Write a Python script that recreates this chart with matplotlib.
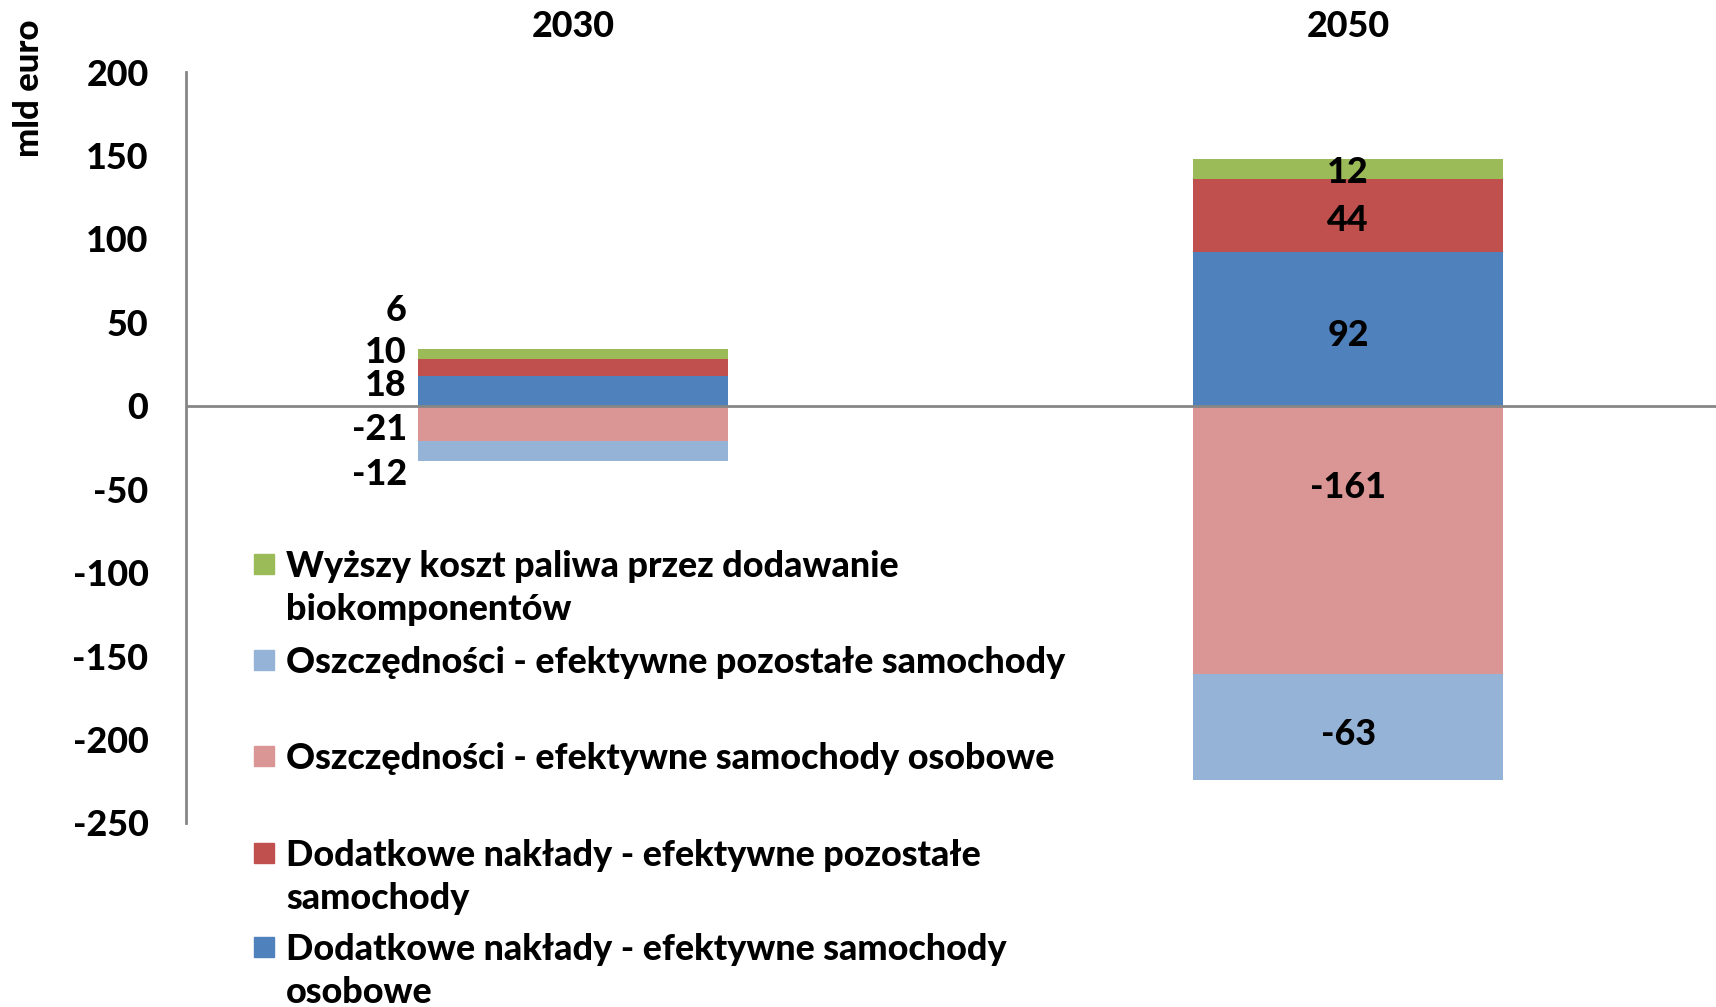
import matplotlib
matplotlib.use("Agg")
import matplotlib.pyplot as plt
from matplotlib.patches import Rectangle

plt.rcParams['font.family'] = ['Lato', 'DejaVu Sans']
plt.rcParams['font.weight'] = 'bold'

# ---- data ----
years = ["2030", "2050"]
series_names = [
    "Dodatkowe nakłady - efektywne samochody osobowe",
    "Dodatkowe nakłady - efektywne pozostałe samochody",
    "Oszczędności - efektywne samochody osobowe",
    "Oszczędności - efektywne pozostałe samochody",
    "Wyższy koszt paliwa przez dodawanie biokomponentów",
]
dod_osobowe = [18, 92]
dod_pozostale = [10, 44]
osz_osobowe = [-21, -161]
osz_pozostale = [-12, -63]
paliwo = [6, 12]
yticks = [200, 150, 100, 50, 0, -50, -100, -150, -200, -250]

# legend text (wrapped as in the reference), top to bottom
legend_order = [4, 3, 2, 1, 0]
legend_text = [
    "Wyższy koszt paliwa przez dodawanie\nbiokomponentów",
    "Oszczędności - efektywne pozostałe samochody",
    "Oszczędności - efektywne samochody osobowe",
    "Dodatkowe nakłady - efektywne pozostałe\nsamochody",
    "Dodatkowe nakłady - efektywne samochody\nosobowe",
]

# ---- style / layout ----
colors = ["#4F81BD", "#C0504D", "#D99694", "#95B3D7", "#9BBB59"]
bar_w = 0.4
# label y-positions (data units) as placed in the reference
label_pos_2030 = [12.3, 31.8, -14.2, -41.2, 57.3]
label_pos_2050 = [42.3, 111.3, -48.7, -196.7, 139.8]
FS = 25.8
FW = 'black'

fig = plt.figure(figsize=(17.16, 10.07), dpi=100)
ax = fig.add_axes([186/1716, 184/1007, 1 - 186/1716, 751/1007])

series = [dod_osobowe, dod_pozostale, osz_osobowe, osz_pozostale, paliwo]
x = list(range(len(years)))
pos_base = [0.0] * len(years)
neg_base = [0.0] * len(years)
for vals, c in zip(series, colors):
    bottoms = []
    for i, v in enumerate(vals):
        if v >= 0:
            bottoms.append(pos_base[i]); pos_base[i] += v
        else:
            bottoms.append(neg_base[i]); neg_base[i] += v
    ax.bar(x, vals, bar_w, bottom=bottoms, color=c, edgecolor='none', zorder=2)

# data labels
for s, vals in enumerate(series):
    # 2030: to the left of the bar
    ax.text(x[0] - bar_w / 2 - 0.015, label_pos_2030[s], f"{vals[0]}",
            ha='right', va='center', fontsize=FS, fontweight=FW, zorder=4)
    # 2050: inside the bar
    ax.text(x[1], label_pos_2050[s], f"{vals[1]}",
            ha='center', va='center', fontsize=FS, fontweight=FW, zorder=4)

ax.axhline(0, color='#868686', lw=2, zorder=3)

ax.set_ylim(-250, 200)
ax.set_xlim(-0.5, 1.475)
ax.set_yticks(yticks)
ax.set_yticklabels([str(t) for t in yticks], fontsize=FS, fontweight=FW)
ax.tick_params(axis='y', length=0, pad=27)
ax.xaxis.tick_top()
ax.set_xticks(x)
ax.set_xticklabels(years, fontsize=FS, fontweight=FW)
ax.tick_params(axis='x', length=0, pad=21)

for sp in ['top', 'right', 'bottom']:
    ax.spines[sp].set_visible(False)
ax.spines['left'].set_color('#868686')
ax.spines['left'].set_linewidth(2)

ax.set_ylabel("mld euro", fontsize=25, fontweight=FW)
ax.yaxis.set_label_coords(-0.092, 0.979)

# manual legend (figure pixel layout)
W, H = 1716, 1007
first_line_y = [564, 660, 756, 853, 947]
for k, (si, txt) in enumerate(zip(legend_order, legend_text)):
    yc = first_line_y[k]
    fig.patches.append(Rectangle((254 / W, (H - yc - 10) / H), 20 / W, 20 / H,
                                 transform=fig.transFigure, color=colors[si]))
    fig.text(286 / W, (H - yc + 14) / H, txt, ha='left', va='top',
             fontsize=FS, fontweight=FW, linespacing=1.37)

fig.savefig("out.png", dpi=100)
